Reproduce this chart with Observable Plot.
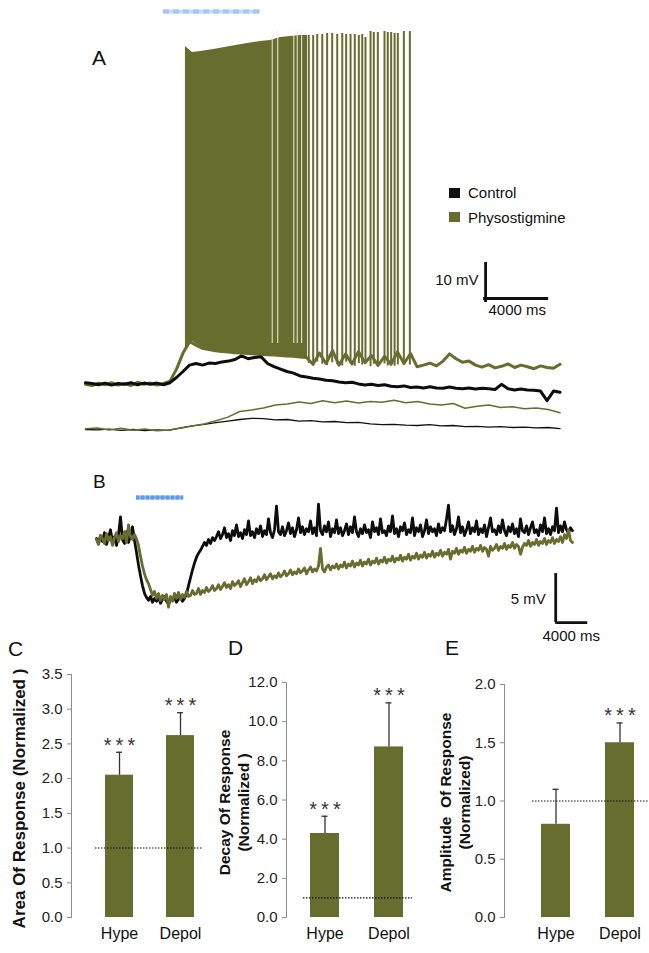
<!DOCTYPE html>
<html><head><meta charset="utf-8">
<script src="https://cdn.jsdelivr.net/npm/d3@7"></script>
<script src="https://cdn.jsdelivr.net/npm/@observablehq/plot@0.6"></script>
<style>
body{margin:0;background:#fff;}
#fig{position:relative;width:649px;height:953px;overflow:hidden;background:#fff;font-family:"Liberation Sans",Arial,Helvetica,sans-serif;}
.letter{position:absolute;font-size:21px;line-height:1;color:#111;}
.leg{position:absolute;font-size:15px;line-height:1;color:#111;white-space:nowrap;}
.sw{position:absolute;width:11px;height:10px;}
g[aria-label="x-axis tick label"]{font-size:16px;fill:#111;}
g[aria-label="y-axis tick label"]{fill:#222;}
</style></head><body><div id="fig"></div>
<script>
// ---------------- Panel A data (time in s, membrane potential in mV, relative) ----------------
const aStep = 0.4;
const aCtrlThick = [0.2,0.0,-0.3,0.1,-0.4,0.0,-0.2,0.2,-0.3,0.1,
 -0.2,0.1,-0.3,0.2,1.5,3.0,4.6,5.0,4.6,5.1,
 5.0,5.4,5.6,6.0,6.9,6.2,6.5,6.7,5.0,4.2,
 3.6,3.0,2.6,1.9,1.6,1.3,1.1,0.8,0.7,0.4,
 0.2,0.3,-0.1,-0.4,-0.2,-0.5,-0.3,-0.7,-0.8,-0.6,
 -1.0,-0.9,-1.1,-0.8,-1.1,-1.2,-0.9,-1.2,-1.3,-1.1,
 -1.4,-1.2,-1.3,-1.5,-0.2,-1.3,-1.6,-1.4,-1.6,-1.7,
 -1.9,-4.3,-1.9,-2.2];
const aPhysoThick = [-0.2,-0.5,0.1,-0.3,0.2,-0.4,0.0,-0.5,0.3,-0.2,
 0.1,-0.4,0.0,0.6,3.6,7.6,10.5,9.6,8.8,8.5,
 8.2,8.0,7.9,7.7,7.6,7.5,7.4,7.3,7.2,7.1,
 7.0,6.9,6.8,6.6,6.5,4.8,7.6,5.0,8.2,4.6,
 7.4,4.9,8.0,5.2,7.0,4.5,6.8,4.8,7.9,5.0,
 7.5,4.2,4.6,5.1,4.4,5.6,7.4,6.2,5.3,5.6,
 4.6,4.1,4.7,3.9,4.3,4.9,4.0,4.6,4.2,3.7,
 4.4,4.0,3.8,4.8];
const aThinStep = 0.73;
const aPhysoThin = [-11.3,-11.1,-11.6,-11.2,-11.7,-11.4,-11.8,-11.6,-11.2,-10.6,
 -10.1,-9.3,-8.4,-7.0,-6.6,-6.1,-5.4,-5.1,-4.6,-5.0,
 -4.3,-4.8,-4.4,-4.9,-4.5,-4.7,-4.2,-4.8,-4.5,-5.1,
 -5.4,-5.0,-6.2,-5.7,-5.4,-6.0,-5.8,-6.3,-6.1,-6.5,-7.3];
const aCtrlThin = [-11.5,-11.6,-11.4,-11.7,-11.5,-11.8,-11.6,-11.7,-11.1,-10.6,
 -10.2,-9.8,-9.4,-9.0,-8.7,-8.8,-9.1,-9.0,-9.4,-9.3,
 -9.6,-9.5,-9.8,-9.7,-10.1,-10.3,-10.2,-10.4,-10.5,-10.3,
 -10.6,-10.5,-10.8,-10.7,-10.9,-10.8,-11.0,-10.9,-11.1,-11.0,-11.3];
// dense spike burst envelope
const burstT = [6.15,6.58,7.08,7.88,8.92,9.97,10.77,11.38,12.0,12.62,13.23,13.66];
const burstTop = [84.25,82.75,83.0,83.5,84.25,85.0,85.5,85.75,86.5,86.75,87.0,87.0];
const burstBottom = [7.75,10.5,9.25,8.25,7.75,7.5,7.25,7.0,7.0,6.75,6.5,6.25];
const burstGapT = [11.49,11.83,12.82,13.03,13.3];
// resolved individual spikes
const spikeT = [13.74,14.01,14.26,14.57,14.87,15.18,15.49,15.80,16.04,16.31,16.57,16.82,17.03,17.23,17.54,17.74,17.99,18.40,18.60,18.81,19.02,19.22,19.59,19.96];
const spikePeak = [87,87,87.25,87.25,87.5,87.5,87.25,87.5,87.25,87.25,87.25,87,87.25,86.5,88,87.75,87.75,88,87.75,87.75,87.5,87.5,88,88];
const spikeTrough = [5.0,4.6,5.4,4.8,4.5,5.2,4.7,4.4,5.3,4.9,4.3,5.0,4.6,5.5,4.2,4.8,4.5,4.9,4.4,5.1,4.3,4.7,4.5,4.6];
const stimA = {start: 4.8, end: 10.77, level: 93};
const scaleA = {t: 24.62, v: 20.25, mv: 10, ms: 4000};

// ---------------- Panel B data (sampled every 0.25 s) ----------------
const bStep = 0.25;
const bCtrl = [0.2,-0.3,0.5,-0.1,0.8,-0.4,0.3,1.1,-0.2,0.4,
 -0.5,0.6,2.4,0.1,-0.3,0.9,-0.2,0.5,1.4,0.0,
 -1.2,-2.5,-3.6,-4.6,-5.4,-5.8,-6.1,-5.7,-6.3,-5.9,
 -6.2,-5.8,-6.4,-6.0,-5.7,-6.2,-6.5,-5.9,-6.1,-5.8,
 -6.3,-6.0,-5.8,-6.2,-5.9,-5.5,-4.6,-3.8,-3.0,-2.3,
 -1.7,-1.3,-1.0,-0.6,-0.2,-0.5,0.1,-0.3,0.3,0.0,
 0.4,0.9,0.2,0.6,1.3,0.3,0.7,0.0,1.0,0.5,
 1.6,0.4,0.8,0.2,1.1,0.6,2.0,0.5,0.9,0.3,
 1.2,0.7,1.5,0.4,1.0,0.6,2.2,0.8,0.3,1.1,
 3.5,0.9,0.6,1.4,0.5,1.0,1.8,0.7,1.3,0.4,
 1.1,2.3,0.8,1.4,0.6,1.2,0.9,2.0,0.7,1.3,
 0.5,3.7,1.0,0.6,1.5,0.9,1.9,0.4,1.2,0.8,
 2.1,0.7,1.3,0.5,1.0,1.7,0.6,1.4,0.8,2.4,
 0.9,0.4,1.2,0.7,1.6,0.8,1.1,0.3,1.9,0.9,
 1.3,0.6,2.2,0.8,1.0,0.5,1.5,0.9,2.5,0.7,
 1.2,0.4,1.4,1.0,1.8,0.6,1.1,0.8,2.3,0.5,
 1.3,0.9,1.6,0.4,1.0,2.1,0.7,1.4,0.9,1.2,
 0.5,1.7,0.8,1.3,1.0,2.2,3.6,0.9,1.5,0.6,
 1.2,2.4,0.8,1.4,0.5,1.1,1.9,0.7,1.3,0.9,
 2.0,0.6,1.2,0.8,1.6,0.4,1.3,2.3,0.9,1.1,
 0.6,1.5,0.8,2.1,1.0,0.5,1.4,0.9,1.7,0.7,
 1.2,0.4,2.2,1.0,0.8,1.5,0.6,1.3,1.9,0.8,
 1.1,0.5,1.6,0.9,2.3,0.7,1.2,0.6,1.4,1.0,
 3.3,0.8,1.5,0.9,1.9,1.1,0.8,1.3,1.0];
const bPhyso = [0.1,-0.4,0.5,0.2,-0.3,0.7,0.0,0.4,-0.5,0.3,
 0.8,-0.1,0.5,0.2,0.9,-0.2,1.6,0.4,0.1,0.6,
 0.2,-0.5,-1.6,-2.6,-3.4,-4.0,-4.4,-5.0,-5.6,-5.2,
 -5.9,-5.4,-6.1,-5.6,-6.0,-5.5,-6.8,-5.7,-6.2,-5.4,
 -5.9,-5.3,-6.0,-5.5,-5.8,-5.2,-5.7,-5.6,-5.1,-5.5,
 -5.4,-4.9,-5.5,-5.1,-5.3,-4.8,-5.2,-5.0,-4.6,-5.1,
 -4.9,-4.5,-5.0,-4.7,-4.3,-4.8,-4.5,-4.9,-4.2,-4.6,
 -4.4,-4.1,-4.7,-4.3,-3.9,-4.5,-4.2,-3.8,-4.4,-4.0,
 -4.2,-3.7,-4.1,-3.9,-3.5,-4.0,-3.7,-3.4,-3.9,-3.6,
 -3.8,-3.3,-3.7,-3.5,-3.1,-3.6,-3.4,-3.0,-3.5,-3.2,
 -3.4,-2.9,-3.3,-3.1,-2.8,-3.4,-3.0,-2.7,-3.2,-2.9,
 -3.1,-2.6,-0.8,-2.9,-3.2,-2.7,-2.5,-3.0,-2.6,-2.8,
 -2.4,-2.9,-2.5,-2.7,-2.2,-2.8,-2.4,-2.6,-2.1,-2.7,
 -2.3,-2.5,-2.0,-2.6,-2.2,-2.4,-1.9,-2.5,-2.1,-2.3,
 -1.8,-2.4,-2.0,-2.2,-1.7,-2.3,-1.9,-2.1,-1.6,-2.2,
 -1.8,-2.0,-1.5,-2.1,-1.7,-1.9,-1.4,-2.0,-1.6,-1.8,
 -1.3,-1.9,-1.5,-1.7,-1.2,-1.8,-1.4,-1.6,-1.1,-1.7,
 -1.3,-1.5,-1.0,-1.6,-1.2,-1.4,-0.9,-1.9,-1.1,-1.3,
 -0.8,-1.4,-1.0,-1.2,-0.7,-1.3,-0.9,-1.1,-0.6,-1.2,
 -0.8,-1.0,-0.5,-1.1,-0.7,-0.9,-1.6,-0.6,-1.0,-0.8,
 -0.4,-1.0,-0.6,-0.8,-0.3,-0.9,-0.5,-0.7,-0.2,-0.8,
 -0.4,-0.6,-1.4,-0.7,-0.3,-0.5,0.0,-0.6,-0.2,-0.4,
 0.1,-0.5,-0.1,-0.3,0.2,-0.4,0.0,-0.2,0.3,-0.3,
 0.1,-0.1,0.4,-0.2,0.6,0.2,1.1,0.0,-0.2];
const stimB = {start: 5.0, end: 10.9, level: 4.4};
const scaleB = {t: 57.4, v: -8.37, mv: 5, ms: 4000};

// ---------------- Panels C-E data ----------------
const groups = ["Hype", "Depol"];
const areaMean = [2.05, 2.62], areaSem = [0.33, 0.33], areaSig = ["***", "***"];
const decayMean = [4.29, 8.71], decaySem = [0.88, 2.25], decaySig = ["***", "***"];
const amplMean = [0.80, 1.50], amplSem = [0.30, 0.17], amplSig = ["", "***"];
const areaTicks = [0, 0.5, 1, 1.5, 2, 2.5, 3, 3.5];
const decayTicks = [0, 2, 4, 6, 8, 10, 12];
const amplTicks = [0, 0.5, 1, 1.5, 2];
const refLevel = 1;
const areaLabel = "Area Of Response (Normalized )";
const decayLabel = "Decay Of Response\n(Normalized )";
const amplLabel = "Amplitude\u00a0 Of Response\n(Normalized)";

// ---------------- rendering ----------------
const FONT = '"Liberation Sans", Arial, Helvetica, sans-serif';
const GREEN = "#656d2f";
const fig = document.getElementById("fig");
const series = (vals, step) => vals.map((v, i) => ({t: i * step, v}));
const baseStyle = {background: "transparent", overflow: "visible", fontFamily: FONT, fontSize: "15px", color: "#111"};
function place(el, left, top) { el.style.position = "absolute"; el.style.left = left + "px"; el.style.top = top + "px"; fig.appendChild(el); }

const burst = burstT.map((t, i) => ({t, top: burstTop[i], bottom: burstBottom[i]}));
const spikes = spikeT.map((t, i) => ({t, peak: spikePeak[i], trough: spikeTrough[i]}));

const plotA = Plot.plot({
  width: 649, height: 440, margin: 0,
  x: {domain: [0, 29.23], range: [85, 560], axis: null},
  y: {domain: [-14.25, 95.75], range: [440, 0], axis: null},
  style: baseStyle,
  marks: [
    Plot.ruleY([stimA], {x1: "start", x2: "end", y: "level", stroke: "#c4daf6", strokeWidth: 4}),
    Plot.ruleY([stimA], {x1: "start", x2: "end", y: "level", stroke: "#a7c6f1", strokeWidth: 4, strokeDasharray: "6,4"}),
    Plot.line(series(aCtrlThin, aThinStep), {x: "t", y: "v", stroke: "#111", strokeWidth: 1.3}),
    Plot.line(series(aPhysoThin, aThinStep), {x: "t", y: "v", stroke: GREEN, strokeWidth: 1.5}),
    Plot.areaY(burst, {x: "t", y1: "bottom", y2: "top", fill: GREEN}),
    Plot.ruleX(burstGapT, {x: d => d, y1: 10, y2: 88, stroke: "#eef0e2", strokeWidth: 1}),
    Plot.ruleX(spikes, {x: "t", y1: "trough", y2: "peak", stroke: GREEN, strokeWidth: 2}),
    Plot.line(series(aPhysoThick, aStep), {x: "t", y: "v", stroke: GREEN, strokeWidth: 3, strokeLinejoin: "round"}),
    Plot.line(series(aCtrlThick, aStep), {x: "t", y: "v", stroke: "#0d0d0d", strokeWidth: 3, strokeLinejoin: "round"}),
    Plot.ruleX([scaleA], {x: "t", y1: "v", y2: d => d.v + d.mv, stroke: "#111", strokeWidth: 2.8}),
    Plot.ruleY([scaleA], {y: d => d.v + 1, x1: d => d.t - 0.12, x2: d => d.t - 0.12 + d.ms / 1000, stroke: "#111", strokeWidth: 2.8}),
    Plot.text([scaleA], {x: d => d.t - 0.43, y: d => d.v + 5.5, text: d => `${d.mv} mV`, textAnchor: "end", lineAnchor: "middle", fontSize: 15, fill: "#111"}),
    Plot.text([scaleA], {x: d => d.t + 0.18, y: d => d.v - 2, text: d => `${d.ms} ms`, textAnchor: "start", lineAnchor: "middle", fontSize: 15, fill: "#111"})
  ]
});
place(plotA, 0, 0);

const plotB = Plot.plot({
  width: 649, height: 190, margin: 0,
  x: {domain: [0, 59.5], range: [96, 572], axis: null},
  y: {domain: [-11.22, 8.163], range: [190, 0], axis: null},
  style: baseStyle,
  marks: [
    Plot.ruleY([stimB], {x1: "start", x2: "end", y: "level", stroke: "#82b3f1", strokeWidth: 4}),
    Plot.ruleY([stimB], {x1: "start", x2: "end", y: "level", stroke: "#5e9aec", strokeWidth: 4, strokeDasharray: "3,2"}),
    Plot.line(series(bCtrl, bStep), {x: "t", y: "v", stroke: "#0d0d0d", strokeWidth: 2.8}),
    Plot.line(series(bPhyso, bStep), {x: "t", y: "v", stroke: GREEN, strokeWidth: 2.8}),
    Plot.ruleX([scaleB], {x: "t", y1: "v", y2: d => d.v + d.mv, stroke: "#111", strokeWidth: 2.8}),
    Plot.ruleY([scaleB], {y: "v", x1: "t", x2: d => d.t + d.ms / 1000, stroke: "#111", strokeWidth: 2.8}),
    Plot.text([scaleB], {x: d => d.t - 1.25, y: d => d.v + 2.37, text: d => `${d.mv} mV`, textAnchor: "end", lineAnchor: "middle", fontSize: 15, fill: "#111"}),
    Plot.text([scaleB], {x: d => d.t - 1.65, y: d => d.v - 1.43, text: d => `${d.ms} ms`, textAnchor: "start", lineAnchor: "middle", fontSize: 15, fill: "#111"})
  ]
});
place(plotB, 0, 460);

function barPanel(o) {
  const step = o.c[1] - o.c[0], p = 1 - o.bw / step, r0 = o.c[0] - step * p - o.bw / 2;
  const rows = groups.map((g, i) => ({g, m: o.means[i], e: o.means[i] + o.sems[i], s: o.sig[i]}));
  const cap = (o.bw - 6) / 2;
  const mt = o.topPx - 640, mb = 36;
  const frameMid = 640 + (mt + (313 - mb)) / 2;
  return Plot.plot({
    width: 649, height: 313, marginLeft: o.axisX, marginRight: 0, marginTop: mt, marginBottom: mb,
    x: {type: "band", domain: groups, range: [r0, r0 + step * (2 + p)], padding: p, tickSize: 0, tickPadding: 10, label: null},
    y: {domain: [0, o.ymax], ticks: o.ticks, tickFormat: ".1f", tickSize: 4, tickPadding: 5, line: true, label: null},
    style: {...baseStyle, color: "#8c8c8c"},
    marks: [
      Plot.barY(rows, {x: "g", y: "m", fill: GREEN}),
      Plot.ruleX(rows, {x: "g", y1: "m", y2: "e", stroke: "#333", strokeWidth: 1.3}),
      Plot.tickY(rows, {x: "g", y: "e", stroke: "#333", strokeWidth: 1.3, insetLeft: cap, insetRight: cap}),
      Plot.ruleY([refLevel], {stroke: "#111", strokeWidth: 1.1, strokeDasharray: "1.5,1.5", insetLeft: o.dot[0] - o.axisX, insetRight: 649 - o.dot[1]}),
      Plot.text(rows, {x: "g", y: "e", text: d => d.s.split("").join("\u2009"), dy: -7, fontSize: 20, fill: "#333", lineAnchor: "middle"}),
      Plot.text([o.label], {frameAnchor: "left", rotate: -90, dx: o.lx - o.axisX, dy: o.ly - frameMid, textAnchor: "middle", lineAnchor: "middle", fontWeight: "bold", fontSize: o.lfs, lineHeight: 1.2, fill: "#111"})
    ]
  });
}
const panels = [
  {means: areaMean, sems: areaSem, sig: areaSig, ticks: areaTicks, ymax: 3.5, axisX: 71, c: [119, 180.5], bw: 28, topPx: 674, dot: [95, 203], label: areaLabel, lx: 18, ly: 798, lfs: 17},
  {means: decayMean, sems: decaySem, sig: decaySig, ticks: decayTicks, ymax: 12, axisX: 286, c: [324.5, 389], bw: 29, topPx: 682, dot: [303, 412], label: decayLabel, lx: 233, ly: 802, lfs: 15.5},
  {means: amplMean, sems: amplSem, sig: amplSig, ticks: amplTicks, ymax: 2, axisX: 504, c: [555, 619.5], bw: 29, topPx: 684, dot: [532, 649], label: amplLabel, lx: 454, ly: 802, lfs: 15.5}
];
panels.forEach(o => place(barPanel(o), 0, 640));

// panel letters and legend
function addDiv(cls, text, left, top, extra) {
  const d = document.createElement("div"); d.className = cls; d.textContent = text;
  d.style.left = left + "px"; d.style.top = top + "px"; if (extra) Object.assign(d.style, extra); fig.appendChild(d);
}
addDiv("letter", "A", 92, 47);
addDiv("letter", "B", 93, 472, {fontSize: "19px"});
addDiv("letter", "C", 8, 638);
addDiv("letter", "D", 228, 637);
addDiv("letter", "E", 445, 637);
addDiv("sw", "", 449, 188, {background: "#111"});
addDiv("sw", "", 449, 212, {background: GREEN});
addDiv("leg", "Control", 468, 185);
addDiv("leg", "Physostigmine", 468, 210);
</script></body></html>
